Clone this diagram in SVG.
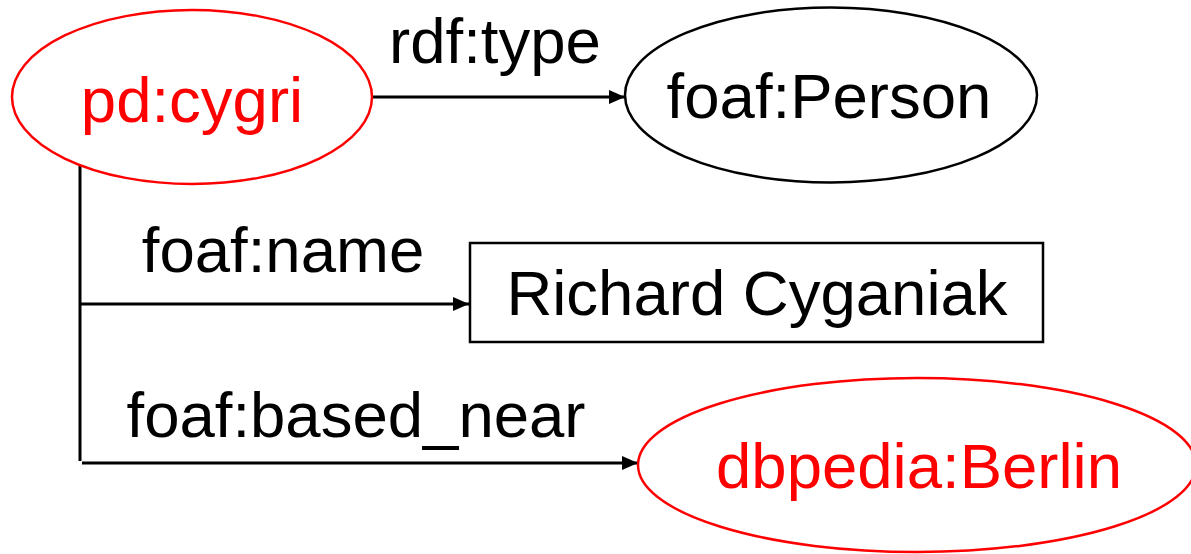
<svg xmlns="http://www.w3.org/2000/svg" width="1191" height="554" viewBox="0 0 1191 554">
<style>
  text { font-family: "Liberation Sans", Arial, sans-serif; font-size: 63.5px; text-anchor: middle; }
  .red { fill: #FF0000; }
  .blk { fill: #000000; }
  .res-red { fill: #FFFFFF; stroke: #FF0000; stroke-width: 2.5; }
  .res-blk { fill: #FFFFFF; stroke: #000000; stroke-width: 2.5; }
  .edge { fill: none; stroke: #000000; stroke-width: 3; }
</style>
<defs>
  <marker id="arrow" markerUnits="userSpaceOnUse" markerWidth="16" markerHeight="14" refX="16" refY="7" orient="auto">
    <path d="M0,0 L16,7 L0,14 Z" fill="#000000"/>
  </marker>
</defs>
<rect width="1191" height="554" fill="#FFFFFF"/>
<g id="connectors">
  <line class="edge" x1="372" y1="97" x2="625" y2="97" marker-end="url(#arrow)"/>
  <line class="edge" x1="80" y1="165" x2="80" y2="461"/>
  <line class="edge" x1="80" y1="304" x2="469" y2="304" marker-end="url(#arrow)"/>
  <line class="edge" x1="82" y1="463" x2="638" y2="463" marker-end="url(#arrow)"/>
  <text class="blk" x="495" y="63">rdf:type</text>
  <text class="blk" x="283" y="272">foaf:name</text>
  <text class="blk" x="356" y="437">foaf:based_near</text>
</g>
<g id="pd-cygri">
  <ellipse class="res-red" cx="192" cy="97" rx="180" ry="87"/>
  <text class="red" x="192" y="122">pd:cygri</text>
</g>
<g id="foaf-Person">
  <ellipse class="res-blk" cx="831" cy="95" rx="206" ry="87.5"/>
  <text class="blk" x="829" y="118">foaf:Person</text>
</g>
<g id="richard-cyganiak">
  <rect class="res-blk" x="470" y="243" width="573" height="99"/>
  <text class="blk" x="757" y="315">Richard Cyganiak</text>
</g>
<g id="dbpedia-Berlin">
  <ellipse class="res-red" cx="917" cy="465" rx="279" ry="87"/>
  <text class="red" x="919" y="488">dbpedia:Berlin</text>
</g>
</svg>
